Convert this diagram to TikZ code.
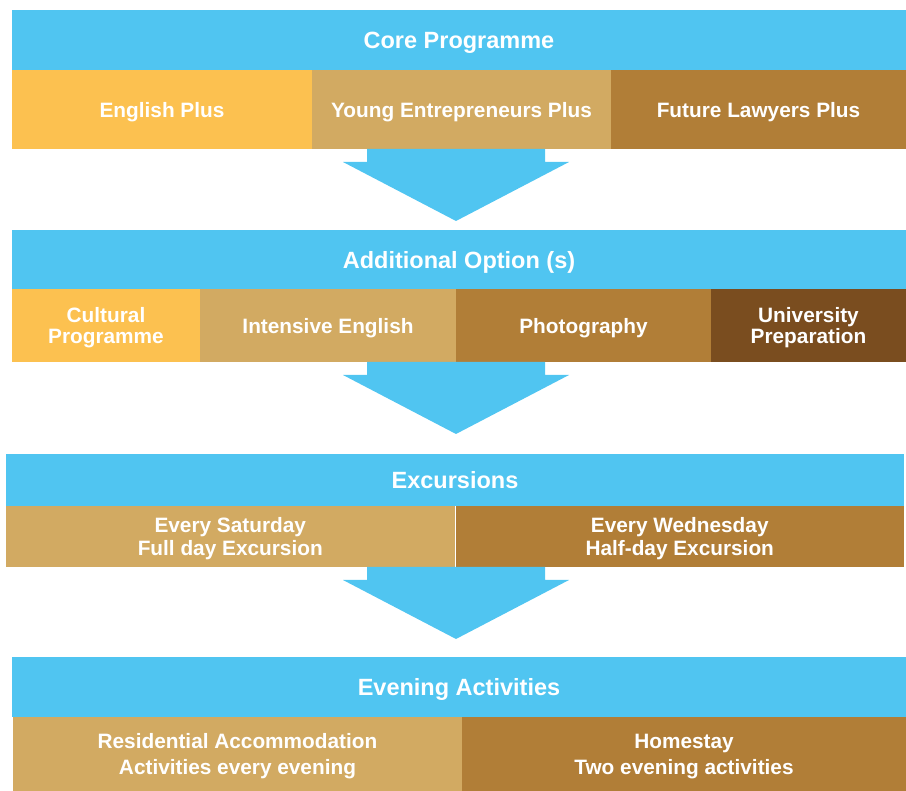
\documentclass[tikz,border=0pt]{standalone}
\usepackage{fontspec}
\usepackage{tikz}
\setmainfont{Liberation Sans}

\definecolor{skyblue}{HTML}{50C5F1}
\definecolor{sunorange}{HTML}{FCC150}
\definecolor{sandtan}{HTML}{D2AA62}
\definecolor{ochre}{HTML}{B17E37}
\definecolor{darkbrown}{HTML}{7A4D1F}

\tikzset{
	cell/.style={rectangle, anchor=north west, inner sep=0pt, outer sep=0pt,
		text depth=0pt, text=white, align=center, font=\fontsize{20.8}{21}\selectfont\bfseries},
	head/.style={cell, fill=skyblue, minimum height=60pt,
		font=\fontsize{23.5}{26}\selectfont\bfseries},
	flow/.style={fill=skyblue}
}

\begin{document}
\begin{tikzpicture}[x=1pt, y=-1pt]
	\useasboundingbox (0,0) rectangle (906,791);

	\node[head, minimum width=894pt] (core) at (12, 10)     {Core Programme};
	\node[cell, fill=sunorange, minimum width=300pt, minimum height=79pt] (english) at (12, 70)     {English Plus};
	\node[cell, fill=sandtan, minimum width=299pt, minimum height=79pt] (young) at (312, 70)     {Young Entrepreneurs Plus};
	\node[cell, fill=ochre, minimum width=295pt, minimum height=79pt] (lawyers) at (611, 70)     {Future Lawyers Plus};

	\node[head, minimum width=894pt, minimum height=59pt] (options) at (12, 230)     {Additional Option (s)};
	\node[cell, fill=sunorange, minimum width=188pt, minimum height=73pt] (cultural) at (12, 289)     {Cultural\\Programme};
	\node[cell, fill=sandtan, minimum width=256pt, minimum height=73pt] (intensive) at (200, 289)     {Intensive English};
	\node[cell, fill=ochre, minimum width=255pt, minimum height=73pt] (photo) at (456, 289)     {Photography};
	\node[cell, fill=darkbrown, minimum width=195pt, minimum height=73pt] (univ) at (711, 289)     {University\\Preparation};

	\node[head, minimum width=898pt, minimum height=52pt] (excursions) at (6, 454)     {Excursions};
	\node[cell, fill=sandtan, minimum width=448.5pt, minimum height=61pt,
		font=\fontsize{20.8}{23}\selectfont\bfseries] (saturday) at (6, 506)     {Every Saturday\\Full day Excursion};
	\node[cell, fill=ochre, minimum width=448.5pt, minimum height=61pt,
		font=\fontsize{20.8}{23}\selectfont\bfseries] (wednesday) at (455.5, 506)     {Every Wednesday\\Half-day Excursion};

	\node[head, minimum width=894pt] (evening) at (12, 657)     {Evening Activities};
	\node[cell, fill=sandtan, minimum width=449pt, minimum height=74pt,
		font=\fontsize{20.8}{26}\selectfont\bfseries] (residential) at (13, 717)     {Residential Accommodation\\Activities every evening};
	\node[cell, fill=ochre, minimum width=444pt, minimum height=74pt,
		font=\fontsize{20.8}{26}\selectfont\bfseries] (homestay) at (462, 717)     {Homestay\\Two evening activities};

	% arrows between the stages
	\coordinate (a1) at (young.south -| 456, 0);
	\coordinate (a2) at (intensive.south -| 456, 0);
	\coordinate (a3) at (saturday.south -| 456, 0);
	\foreach \from in {a1, a2, a3}
		\fill[flow] (\from) ++(-89, 0) -- ++(0, 13) -- ++(-24, 0) -- ++(113, 59)
			-- ++(113, -59) -- ++(-24, 0) -- ++(0, -13) -- cycle;

\end{tikzpicture}
\end{document}
